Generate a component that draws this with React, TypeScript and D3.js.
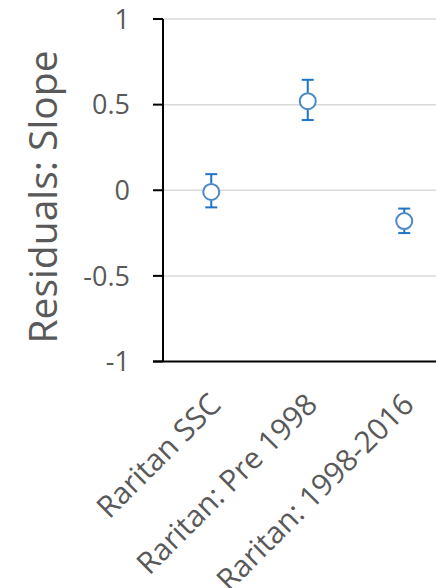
import React from "react";
import * as d3 from "d3";

const categories = ["Raritan SSC", "Raritan: Pre 1998", "Raritan: 1998-2016"];
const values = [-0.01, 0.52, -0.18];
const errUpper = [0.094, 0.645, -0.107];
const errLower = [-0.1, 0.41, -0.25];
const yTicks = [1, 0.5, 0, -0.5, -1];
const yTickLabels = ["1", "0.5", "0", "-0.5", "-1"];

const W = 436;
const H = 588;
const FONT = "'Open Sans', 'Noto Sans', sans-serif";
const TEXT = "#595959";

export default function App() {
  const x = d3.scaleBand<string>().domain(categories).range([163, 452.5]);
  const y = d3.scaleLinear().domain([-1, 1]).range([361.5, 19]);
  const x0 = 163;
  return (
    <svg width={W} height={H} style={{ position: "absolute", left: 0, top: 0 }}>
      <rect width={W} height={H} fill="#fff" />
      {yTicks.filter((t) => t !== -1).map((t) => (
        <line key={"g" + t} x1={x0} x2={W} y1={y(t)} y2={y(t)} stroke="#d9d9d9" strokeWidth={1.5} />
      ))}
      {yTicks.map((t, i) => (
        <g key={"t" + t}>
          <line x1={x0 - 10} x2={x0} y1={y(t)} y2={y(t)} stroke="#000" strokeWidth={2} />
          <text x={130} y={y(t)} dy="0.36em" textAnchor="end" fontFamily={FONT} fontSize={27} fill={TEXT}>
            {yTickLabels[i]}
          </text>
        </g>
      ))}
      <line x1={x0} x2={x0} y1={y(1)} y2={y(-1)} stroke="#000" strokeWidth={2} />
      <line x1={x0 - 10} x2={W} y1={y(-1)} y2={y(-1)} stroke="#000" strokeWidth={2} />
      <text
        transform={`translate(57, 197) rotate(-90)`}
        textAnchor="middle"
        fontFamily={FONT}
        fontSize={39}
        fill={TEXT}
      >
        Residuals: Slope
      </text>
      {categories.map((c, i) => {
        const cx = (x(c) as number) + x.bandwidth() / 2;
        return (
          <g key={c}>
            <line x1={cx} x2={cx} y1={y(errUpper[i])} y2={y(values[i]) - 8.5} stroke="#1f74c4" strokeWidth={2} />
            <line x1={cx} x2={cx} y1={y(values[i]) + 8.5} y2={y(errLower[i])} stroke="#1f74c4" strokeWidth={2} />
            <line x1={cx - 6} x2={cx + 6} y1={y(errUpper[i])} y2={y(errUpper[i])} stroke="#1f74c4" strokeWidth={2} />
            <line x1={cx - 6} x2={cx + 6} y1={y(errLower[i])} y2={y(errLower[i])} stroke="#1f74c4" strokeWidth={2} />
            <circle cx={cx} cy={y(values[i])} r={8} fill="#fff" stroke="#4a88c7" strokeWidth={2} />
            <text
              transform={`translate(${cx - 4}, 391) rotate(-45)`}
              textAnchor="end"
              dy="0.72em"
              fontFamily={FONT}
              fontSize={30}
              fill={TEXT}
            >
              {c}
            </text>
          </g>
        );
      })}
    </svg>
  );
}
